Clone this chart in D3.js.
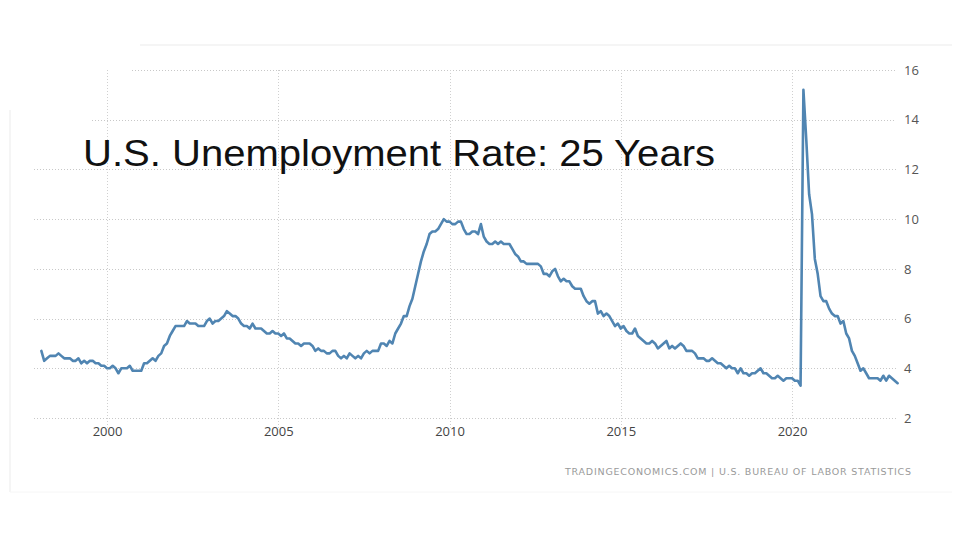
<!DOCTYPE html>
<html>
<head>
<meta charset="utf-8">
<script src="https://cdn.jsdelivr.net/npm/d3@7"></script>
<style>
  html, body { margin: 0; padding: 0; background: #fff; }
  svg { display: block; }
</style>
</head>
<body>
<svg id="chart" width="960" height="540"></svg>
<script>
// ---- data (monthly US unemployment rate, %, Jan 1998 – Jan 2023) ----
const startYear = 1998;
const unemploymentRate = [
  4.7, 4.3, 4.4, 4.5, 4.5, 4.5, 4.6, 4.5, 4.4, 4.4, 4.4, 4.3,   // 1998
  4.3, 4.4, 4.2, 4.3, 4.2, 4.3, 4.3, 4.2, 4.2, 4.1, 4.1, 4.0,   // 1999
  4.0, 4.1, 4.0, 3.8, 4.0, 4.0, 4.0, 4.1, 3.9, 3.9, 3.9, 3.9,   // 2000
  4.2, 4.2, 4.3, 4.4, 4.3, 4.5, 4.6, 4.9, 5.0, 5.3, 5.5, 5.7,   // 2001
  5.7, 5.7, 5.7, 5.9, 5.8, 5.8, 5.8, 5.7, 5.7, 5.7, 5.9, 6.0,   // 2002
  5.8, 5.9, 5.9, 6.0, 6.1, 6.3, 6.2, 6.1, 6.1, 6.0, 5.8, 5.7,   // 2003
  5.7, 5.6, 5.8, 5.6, 5.6, 5.6, 5.5, 5.4, 5.4, 5.5, 5.4, 5.4,   // 2004
  5.3, 5.4, 5.2, 5.2, 5.1, 5.0, 5.0, 4.9, 5.0, 5.0, 5.0, 4.9,   // 2005
  4.7, 4.8, 4.7, 4.7, 4.6, 4.6, 4.7, 4.7, 4.5, 4.4, 4.5, 4.4,   // 2006
  4.6, 4.5, 4.4, 4.5, 4.4, 4.6, 4.7, 4.6, 4.7, 4.7, 4.7, 5.0,   // 2007
  5.0, 4.9, 5.1, 5.0, 5.4, 5.6, 5.8, 6.1, 6.1, 6.5, 6.8, 7.3,   // 2008
  7.8, 8.3, 8.7, 9.0, 9.4, 9.5, 9.5, 9.6, 9.8, 10.0, 9.9, 9.9,  // 2009
  9.8, 9.8, 9.9, 9.9, 9.6, 9.4, 9.4, 9.5, 9.5, 9.4, 9.8, 9.3,   // 2010
  9.1, 9.0, 9.0, 9.1, 9.0, 9.1, 9.0, 9.0, 9.0, 8.8, 8.6, 8.5,   // 2011
  8.3, 8.3, 8.2, 8.2, 8.2, 8.2, 8.2, 8.1, 7.8, 7.8, 7.7, 7.9,   // 2012
  8.0, 7.7, 7.5, 7.6, 7.5, 7.5, 7.3, 7.2, 7.2, 7.2, 6.9, 6.7,   // 2013
  6.6, 6.7, 6.7, 6.2, 6.3, 6.1, 6.2, 6.1, 5.9, 5.7, 5.8, 5.6,   // 2014
  5.7, 5.5, 5.4, 5.4, 5.6, 5.3, 5.2, 5.1, 5.0, 5.0, 5.1, 5.0,   // 2015
  4.8, 4.9, 5.0, 5.1, 4.8, 4.9, 4.8, 4.9, 5.0, 4.9, 4.7, 4.7,   // 2016
  4.7, 4.6, 4.4, 4.4, 4.4, 4.3, 4.3, 4.4, 4.3, 4.2, 4.2, 4.1,   // 2017
  4.0, 4.1, 4.0, 4.0, 3.8, 4.0, 3.8, 3.8, 3.7, 3.8, 3.8, 3.9,   // 2018
  4.0, 3.8, 3.8, 3.7, 3.6, 3.6, 3.7, 3.6, 3.5, 3.6, 3.6, 3.6,   // 2019
  3.5, 3.5, 3.3, 15.2, 13.2, 11.0, 10.2, 8.4, 7.8, 6.9, 6.7, 6.7, // 2020
  6.4, 6.2, 6.1, 6.1, 5.8, 5.9, 5.4, 5.2, 4.7, 4.5, 4.2, 3.9,   // 2021
  4.0, 3.8, 3.6, 3.6, 3.6, 3.6, 3.5, 3.7, 3.5, 3.7, 3.6, 3.5,   // 2022
  3.4                                                           // 2023
];
const xTickYears = [2000, 2005, 2010, 2015, 2020];
const yTickValues = [2, 4, 6, 8, 10, 12, 14, 16];
const titleText = "U.S. Unemployment Rate: 25 Years";
const sourceText = "TRADINGECONOMICS.COM | U.S. BUREAU OF LABOR STATISTICS";

// ---- build ----
const points = unemploymentRate.map((v, i) => ({ t: startYear + (i + 1) / 12, v }));

const svg = d3.select("#chart");

const x = d3.scaleLinear().domain([2000, 2020]).range([107, 792]);
const y = d3.scaleLinear().domain([2, 16]).range([418, 70]);

const plotLeft = 34, plotRight = 896;

// faint frame of the embedded screenshot
svg.append("line").attr("x1", 140).attr("x2", 952).attr("y1", 45).attr("y2", 45)
  .attr("stroke", "#f2f2f2").attr("stroke-width", 1.5);
svg.append("line").attr("x1", 10).attr("x2", 10).attr("y1", 110).attr("y2", 492)
  .attr("stroke", "#f2f2f2").attr("stroke-width", 1.5);
svg.append("line").attr("x1", 10).attr("x2", 952).attr("y1", 492).attr("y2", 492)
  .attr("stroke", "#f6f6f6").attr("stroke-width", 1);

// horizontal gridlines
const gridStart = v => v === 16 ? 132 : (v === 14 ? 92 : plotLeft);
svg.append("g").selectAll("line").data(yTickValues).join("line")
  .attr("x1", d => gridStart(d)).attr("x2", plotRight)
  .attr("y1", d => Math.round(y(d)) + 0.5).attr("y2", d => Math.round(y(d)) + 0.5)
  .attr("stroke", "#c8c8c8").attr("stroke-width", 1).attr("stroke-dasharray", "1,2");

// vertical gridlines
svg.append("g").selectAll("line").data(xTickYears).join("line")
  .attr("x1", d => Math.round(x(d)) + 0.5).attr("x2", d => Math.round(x(d)) + 0.5)
  .attr("y1", 70).attr("y2", 428)
  .attr("stroke", "#d0d0d0").attr("stroke-width", 1).attr("stroke-dasharray", "1,2");

// right y axis labels
const yAxis = d3.axisRight(y).tickValues(yTickValues).tickSize(0).tickPadding(0).tickFormat(d3.format("d"));
const gy = svg.append("g").attr("transform", "translate(904,0)").call(yAxis);
gy.select(".domain").remove();
gy.selectAll("text").attr("fill", "#555").style("font-family", "'Open Sans', sans-serif").style("font-size", "13px");

// bottom x axis labels
const xAxis = d3.axisBottom(x).tickValues(xTickYears).tickSize(0).tickPadding(0).tickFormat(d3.format("d"));
const gx = svg.append("g").attr("transform", "translate(0,427)").call(xAxis);
gx.select(".domain").remove();
gx.selectAll("text").attr("fill", "#444").style("font-family", "'Open Sans', sans-serif").style("font-size", "13px");

// line
const line = d3.line().x(d => x(d.t)).y(d => y(d.v));
svg.append("path").datum(points)
  .attr("d", line)
  .attr("fill", "none")
  .attr("stroke", "#5085b2")
  .attr("stroke-width", 2.6)
  .attr("stroke-linejoin", "round")
  .attr("stroke-linecap", "round");

// title
svg.append("text").attr("x", 83).attr("y", 166)
  .text(titleText)
  .attr("fill", "#111")
  .attr("textLength", 632)
  .attr("lengthAdjust", "spacingAndGlyphs")
  .style("font-family", "'Liberation Sans', Arial, sans-serif")
  .style("font-size", "37px");

// source
svg.append("text").attr("x", 565).attr("y", 475)
  .text(sourceText)
  .attr("fill", "#9a9a9a")
  .attr("textLength", 346)
  .attr("lengthAdjust", "spacing")
  .style("font-family", "'DejaVu Sans', sans-serif")
  .style("font-size", "9.5px");
</script>
</body>
</html>
